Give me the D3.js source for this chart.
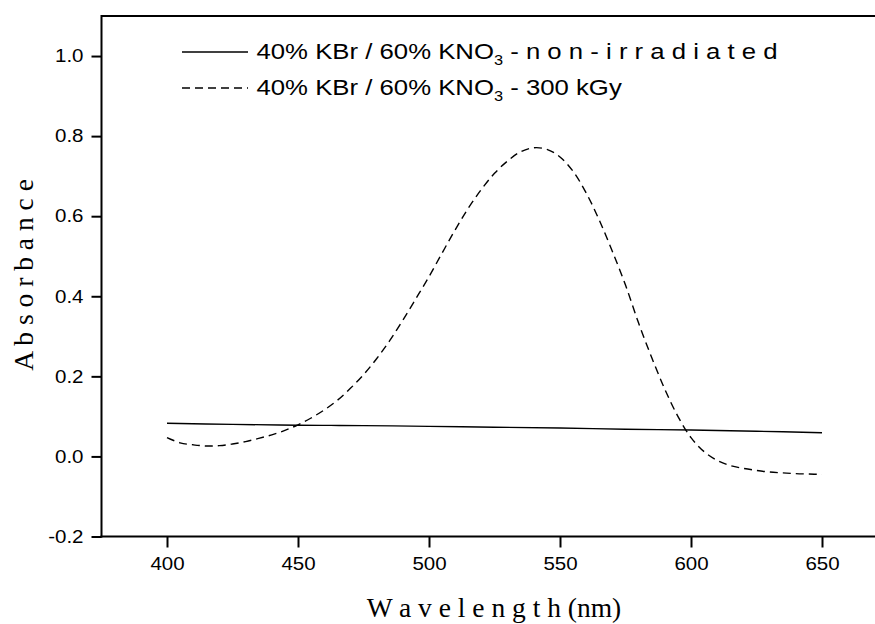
<!DOCTYPE html>
<html><head><meta charset="utf-8">
<script src="https://cdn.jsdelivr.net/npm/d3@7"></script>
<style>body{margin:0;background:#fff;} svg{display:block;}</style>
</head><body><svg id="c" width="875" height="624"></svg>
<script>
const wavelengths = [400,405,410,415,420,425,430,435,440,445,450,455,460,465,470,475,480,485,490,495,500,505,510,515,520,525,530,535,540,545,550,555,560,565,570,575,580,585,590,595,600,605,610,615,620,625,630,635,640,645,650];
const irradiated300 = [0.047,0.034,0.029,0.026,0.027,0.031,0.037,0.045,0.054,0.065,0.079,0.096,0.116,0.140,0.170,0.204,0.244,0.289,0.340,0.394,0.449,0.508,0.566,0.620,0.667,0.707,0.738,0.761,0.771,0.767,0.748,0.712,0.658,0.590,0.512,0.428,0.333,0.247,0.168,0.100,0.047,0.012,-0.010,-0.023,-0.030,-0.035,-0.039,-0.041,-0.043,-0.044,-0.045];
const solidWavelengths = [400,425,450,475,500,525,550,575,600,625,650];
const nonIrradiated = [0.083,0.080,0.078,0.077,0.075,0.073,0.071,0.068,0.066,0.063,0.059];
const xMajorTicks = [400,450,500,550,600,650];
const xMinorTicks = [375,425,475,525,575,625,675];
const yMajorTicks = [-0.2,0.0,0.2,0.4,0.6,0.8,1.0];
const yMinorTicks = [-0.1,0.1,0.3,0.5,0.7,0.9];
const legendMain = "40% KBr / 60% KNO";
const legendSub = "3";
const legendSuffixes = [" - n o n - i r r a d i a t e d", " - 300 kGy"];
const xTitle = "W a v e l e n g t h (nm)";
const yTitle = "A b s o r b a n c e";

const svg = d3.select("#c");
const x = d3.scaleLinear().domain([375,675]).range([101.5,887.5]);
const y = d3.scaleLinear().domain([-0.2,1.1]).range([536.5,16]);
const SX = 1.14;
const sans = "'Liberation Sans', Arial, sans-serif";
const serif = "'Liberation Serif', 'Times New Roman', serif";

// top frame line
svg.append("line").attr("x1",x(375)).attr("x2",875).attr("y1",y(1.1)).attr("y2",y(1.1))
  .attr("stroke","#000").attr("stroke-width",2);

// x axis
const gx = svg.append("g").attr("transform",`translate(0,${y(-0.2)})`);
gx.call(d3.axisBottom(x).tickValues(xMinorTicks).tickSize(6).tickFormat(""));
gx.call(d3.axisBottom(x).tickValues(xMajorTicks).tickSize(11).tickPadding(10).tickFormat(d3.format("d")));
gx.selectAll(".domain").remove();
gx.append("line").attr("x1",x(375)-1).attr("x2",875).attr("stroke","#000").attr("stroke-width",2);
gx.selectAll(".tick line").attr("stroke","#000").attr("stroke-width",2);
gx.selectAll("text").attr("font-family",sans).attr("font-size",18).attr("fill","#000")
  .attr("transform",`scale(${SX},1)`);

// y axis
const fmtY = d => d3.format(".1f")(d).replace("\u2212","-");
const gy = svg.append("g").attr("transform",`translate(${x(375)},0)`);
gy.call(d3.axisLeft(y).tickValues(yMinorTicks).tickSize(5).tickFormat(""));
gy.call(d3.axisLeft(y).tickValues(yMajorTicks).tickSize(10).tickPadding(8).tickFormat(fmtY));
gy.selectAll(".domain").remove();
gy.append("line").attr("y1",y(1.1)-1).attr("y2",y(-0.2)+1).attr("stroke","#000").attr("stroke-width",2);
gy.selectAll(".tick line").attr("stroke","#000").attr("stroke-width",2);
gy.selectAll("text").attr("font-family",sans).attr("font-size",18).attr("fill","#000")
  .attr("x",-18/SX).attr("transform",`scale(${SX},1)`);

// curves
const line = d3.line().x(d=>x(d[0])).y(d=>y(d[1])).curve(d3.curveCatmullRom);
svg.append("path").datum(solidWavelengths.map((w,i)=>[w,nonIrradiated[i]]))
  .attr("d",line).attr("fill","none").attr("stroke","#000").attr("stroke-width",1.4);
svg.append("path").datum(wavelengths.map((w,i)=>[w,irradiated300[i]]))
  .attr("d",line).attr("fill","none").attr("stroke","#000").attr("stroke-width",1.4)
  .attr("stroke-dasharray","8,5");

// legend
const legY = [59,95];
legendSuffixes.forEach((suf,i)=>{
  svg.append("line").attr("x1",182).attr("x2",248).attr("y1",legY[i]-7).attr("y2",legY[i]-7)
    .attr("stroke","#000").attr("stroke-width",1.4)
    .attr("stroke-dasharray", i===1 ? "8,5" : null);
  const t = svg.append("text").attr("transform",`translate(256.5,${legY[i]}) scale(1.17,1)`)
    .attr("font-family",sans).attr("font-size",22).attr("fill","#000");
  t.append("tspan").text(legendMain);
  t.append("tspan").attr("font-size",14).attr("dy",6).text(legendSub);
  t.append("tspan").attr("dy",-6).text(suf);
});

// titles
svg.append("text").attr("x",494).attr("y",617).attr("text-anchor","middle")
  .attr("font-family",serif).attr("font-size",27.5).attr("fill","#000").text(xTitle);
svg.append("text").attr("transform","translate(33,275) rotate(-90)").attr("text-anchor","middle")
  .attr("font-family",serif).attr("font-size",27.5).attr("fill","#000").text(yTitle);
</script></body></html>
